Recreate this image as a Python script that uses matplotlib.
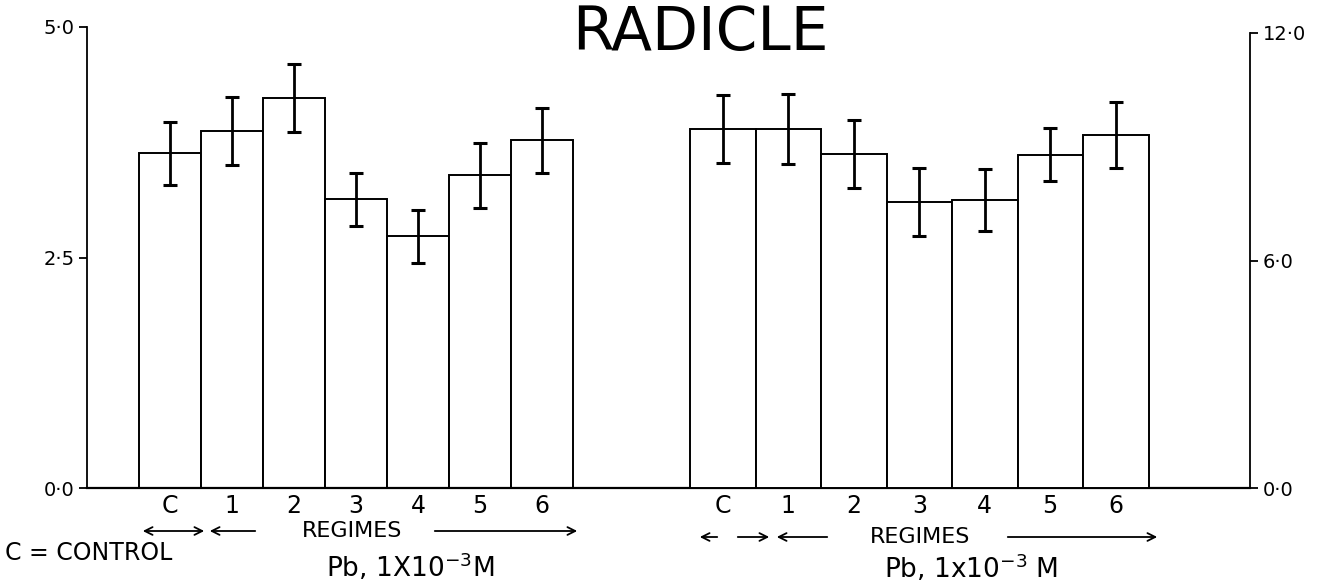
import matplotlib
matplotlib.use("Agg")
import matplotlib.pyplot as plt
import numpy as np

# ---- data ----
categories = ['C', '1', '2', '3', '4', '5', '6']
left_means = [3.63, 3.87, 4.23, 3.13, 2.73, 3.39, 3.77]      # left axis (0-5)
left_err = [0.34, 0.37, 0.37, 0.29, 0.29, 0.35, 0.35]
right_means = [9.47, 9.47, 8.81, 7.55, 7.60, 8.79, 9.31]     # right axis (0-12)
right_err = [0.90, 0.92, 0.90, 0.90, 0.82, 0.70, 0.86]
left_ticks = [0.0, 2.5, 5.0]
left_ticklabels = ['0·0', '2·5', '5·0']
right_ticks = [0.0, 6.0, 12.0]
right_ticklabels = ['0·0', '6·0', '12·0']

# ---- layout (figure pixels) ----
W, H = 1332, 586
fig = plt.figure(figsize=(W / 100, H / 100), dpi=100)
plt.rcParams['font.family'] = ['DejaVu Sans']

ax_l, ax_r, ax_b, ax_t = 87, 1250, 488, 27
ax = fig.add_axes([ax_l / W, 1 - ax_b / H, (ax_r - ax_l) / W, (ax_b - ax_t) / H])
ax.set_xlim(ax_l, ax_r)
ax.set_ylim(0, 5)
ax.patch.set_alpha(0)

ax2 = ax.twinx()
ax2.set_ylim(0, 12 * (ax_b - ax_t) / (ax_b - 33))

n = len(categories)
lw_start, lw_w = 139, 62.0
rw_start, rw_w = 690, 65.5
left_x = lw_start + np.arange(n) * lw_w
right_x = rw_start + np.arange(n) * rw_w

ax.bar(left_x, left_means, width=lw_w, align='edge', color='white',
       edgecolor='black', linewidth=1.4, zorder=2)
ax.errorbar(left_x + lw_w / 2, left_means, yerr=left_err, fmt='none',
            ecolor='black', elinewidth=2.0, capsize=5, capthick=2.2, zorder=3)

ax2.bar(right_x, right_means, width=rw_w, align='edge', color='white',
        edgecolor='black', linewidth=1.4, zorder=2)
ax2.errorbar(right_x + rw_w / 2, right_means, yerr=right_err, fmt='none',
             ecolor='black', elinewidth=2.0, capsize=5, capthick=2.2, zorder=3)

# spines
for s in ['top', 'right']:
    ax.spines[s].set_visible(False)
for s in ['top', 'left', 'bottom']:
    ax2.spines[s].set_visible(False)
ax.spines['left'].set_linewidth(1.3)
ax.spines['bottom'].set_linewidth(1.6)
ax2.spines['right'].set_linewidth(1.3)
ax2.spines['right'].set_bounds(0, 12)

ax.set_yticks(left_ticks)
ax.set_yticklabels(left_ticklabels)
ax.tick_params(axis='y', direction='out', length=6, width=1.3, labelsize=14, pad=3)
ax2.set_yticks(right_ticks)
ax2.set_yticklabels(right_ticklabels)
ax2.tick_params(axis='y', direction='out', length=6, width=1.3, labelsize=14, pad=3)

centers = np.concatenate([left_x + lw_w / 2, right_x + rw_w / 2])
ax.set_xticks(centers)
ax.set_xticklabels(categories + categories)
ax.tick_params(axis='x', length=0, pad=4, labelsize=17)


def fx(x):
    return x / W


def fy(y):
    return 1 - y / H


# title
fig.text(fx(700), fy(50), 'RADICLE', ha='center', va='baseline', fontsize=43)

# regime arrows and notes
arrow = dict(arrowstyle='->', color='black', lw=1.3, mutation_scale=14)
darrow = dict(arrowstyle='<->', color='black', lw=1.3, mutation_scale=14)

# left group
ly = 531
fig.add_artist(matplotlib.patches.FancyArrowPatch((fx(140), fy(ly)), (fx(207), fy(ly)),
               transform=fig.transFigure, **darrow))
fig.add_artist(matplotlib.patches.FancyArrowPatch((fx(258), fy(ly)), (fx(207), fy(ly)),
               transform=fig.transFigure, **arrow))
fig.text(fx(352), fy(ly), 'REGIMES', ha='center', va='center', fontsize=16)
fig.add_artist(matplotlib.patches.FancyArrowPatch((fx(432), fy(ly)), (fx(580), fy(ly)),
               transform=fig.transFigure, **arrow))
fig.text(fx(5), fy(553), 'C = CONTROL', ha='left', va='center', fontsize=17)
fig.text(fx(410), fy(567), r'Pb, 1X10$^{-3}$M', ha='center', va='center', fontsize=19)

# right group
ry = 537
fig.add_artist(matplotlib.patches.FancyArrowPatch((fx(720), fy(ry)), (fx(697), fy(ry)),
               transform=fig.transFigure, **arrow))
fig.add_artist(matplotlib.patches.FancyArrowPatch((fx(735), fy(ry)), (fx(772), fy(ry)),
               transform=fig.transFigure, **arrow))
fig.add_artist(matplotlib.patches.FancyArrowPatch((fx(830), fy(ry)), (fx(774), fy(ry)),
               transform=fig.transFigure, **arrow))
fig.text(fx(920), fy(ry), 'REGIMES', ha='center', va='center', fontsize=16)
fig.add_artist(matplotlib.patches.FancyArrowPatch((fx(1005), fy(ry)), (fx(1160), fy(ry)),
               transform=fig.transFigure, **arrow))
fig.text(fx(971), fy(568), r'Pb, 1x10$^{-3}$ M', ha='center', va='center', fontsize=19)

fig.savefig('out.png', dpi=100, facecolor='white')
